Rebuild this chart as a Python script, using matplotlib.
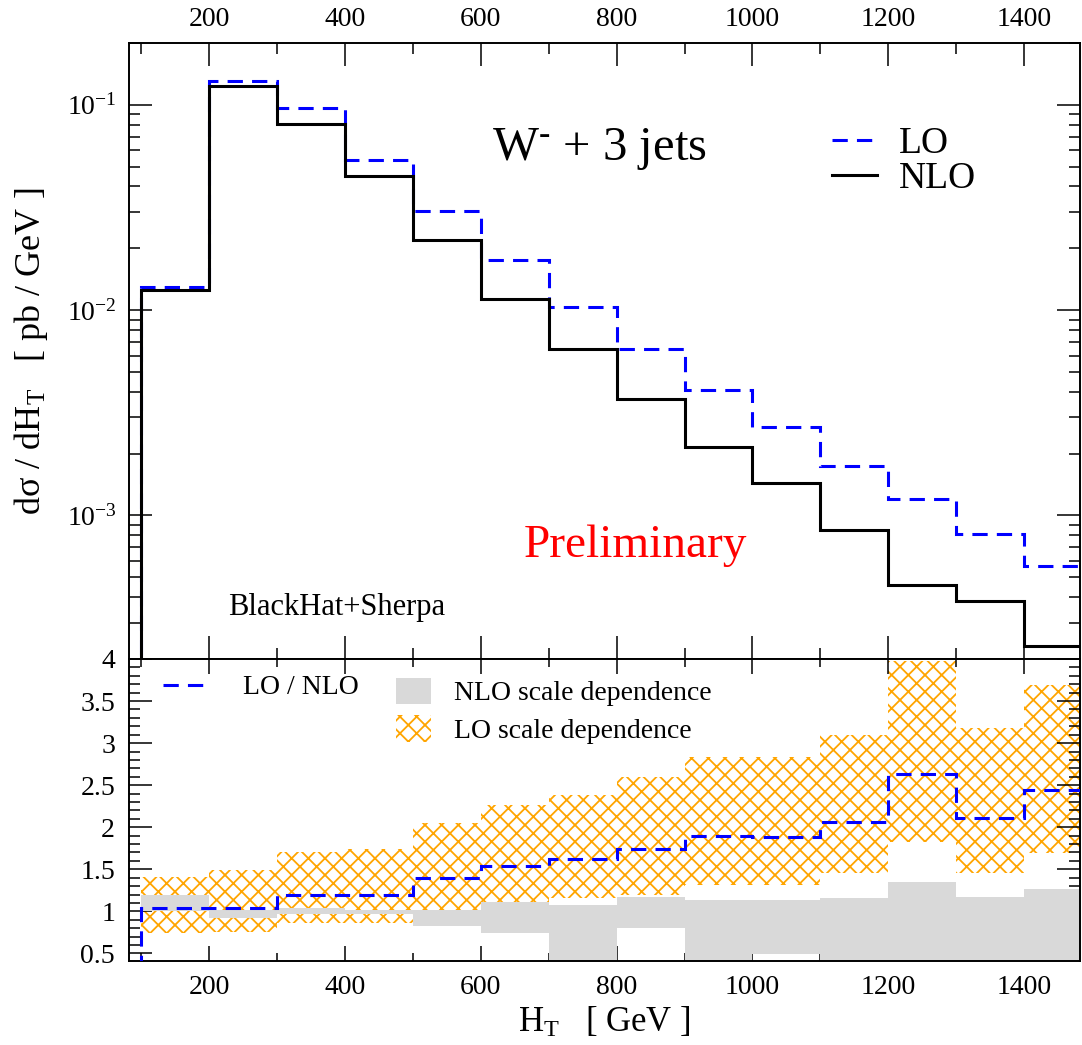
import matplotlib
matplotlib.use("Agg")
import matplotlib.pyplot as plt
from matplotlib.lines import Line2D
from matplotlib.patches import Patch
from matplotlib.ticker import MultipleLocator, LogLocator, NullFormatter, FormatStrFormatter

plt.rcParams['font.family'] = ['Liberation Serif', 'DejaVu Serif']
plt.rcParams['mathtext.fontset'] = 'custom'
plt.rcParams['mathtext.rm'] = 'Liberation Serif'
plt.rcParams['mathtext.it'] = 'Liberation Serif:italic'
plt.rcParams['hatch.linewidth'] = 1.3
plt.rcParams['hatch.color'] = 'orange'

# H_T bins [GeV]
bin_edges = [100, 200, 300, 400, 500, 600, 700, 800, 900, 1000, 1100, 1200, 1300, 1400, 1500]

# dsigma/dH_T [pb/GeV]
nlo = [0.0125, 0.123, 0.0803, 0.0451, 0.0220, 0.0113, 0.00643, 0.00369, 0.00215,
       0.00144, 0.000852, 0.000460, 0.000385, 0.000231]
lo = [0.0130, 0.130, 0.0960, 0.0537, 0.0303, 0.0175, 0.0104, 0.00643, 0.00410,
      0.00270, 0.00175, 0.00120, 0.000814, 0.000568]

# lower panel: LO/NLO and scale bands (normalised to NLO)
ratio = [1.036, 1.04, 1.19, 1.20, 1.40, 1.54, 1.62, 1.74, 1.90, 1.88, 2.06, 2.63, 2.11, 2.44]
lo_band_low = [0.74, 0.76, 0.86, 0.86, 0.90, 1.00, 1.16, 1.20, 1.31, 1.31, 1.45, 1.83, 1.46, 1.69]
lo_band_high = [1.41, 1.49, 1.71, 1.74, 2.05, 2.27, 2.38, 2.60, 2.83, 2.83, 3.10, 3.98, 3.18, 3.69]
nlo_band_low = [1.00, 0.92, 0.97, 0.97, 0.83, 0.74, 0.30, 0.80, 0.30, 0.49, 0.30, 0.30, 0.30, 0.30]
nlo_band_high = [1.19, 1.015, 1.04, 1.02, 1.02, 1.11, 1.08, 1.17, 1.135, 1.135, 1.155, 1.345, 1.174, 1.27]

dash = (0, (5, 3))
tick_fs = 20

fig = plt.figure(figsize=(10.82, 10.45), dpi=100)
ax1 = fig.add_axes([0.1192, 0.3694, 0.8794, 0.5895])
ax2 = fig.add_axes([0.1192, 0.0804, 0.8794, 0.2890])

# ---- top panel
ax1.stairs(lo, bin_edges, baseline=1e-6, color='blue', lw=2.2, ls=dash, zorder=3)
ax1.stairs(nlo, bin_edges, baseline=1e-6, color='black', lw=2.2, zorder=4)
ax1.set_yscale('log')
ax1.set_xlim(82, 1483)
ax1.set_ylim(2e-4, 0.2)
ax1.xaxis.set_major_locator(MultipleLocator(200))
ax1.xaxis.set_minor_locator(MultipleLocator(100))
ax1.yaxis.set_major_locator(LogLocator(base=10, numticks=10))
ax1.yaxis.set_minor_locator(LogLocator(base=10, subs=range(2, 10), numticks=20))
ax1.yaxis.set_minor_formatter(NullFormatter())
ax1.tick_params(axis='x', which='both', direction='in', top=True, bottom=True,
                labeltop=True, labelbottom=False, labelsize=tick_fs, pad=8)
ax1.tick_params(axis='y', which='both', direction='in', left=True, right=True,
                labelsize=tick_fs, pad=9)
ax1.tick_params(which='major', length=16.5, width=1.1)
ax1.tick_params(which='minor', length=8, width=1.1)
ax1.set_ylabel('dσ / dH$_\\mathrm{T}$   [ pb / GeV ]', fontsize=26)
ax1.yaxis.set_label_coords(-0.083, 0.5)

top_handles = [Line2D([], [], color='blue', lw=2.2, ls=dash),
               Line2D([], [], color='black', lw=2.2)]
ax1.legend(top_handles, ['LO', 'NLO'], loc='upper left', bbox_to_anchor=(0.739, 0.864),
           frameon=False, fontsize=27, handlelength=1.2, handletextpad=0.59,
           labelspacing=0.0, borderpad=0, borderaxespad=0)
ax1.text(0.382, 0.81, r'W$^{\text{-}}$ + 3 jets', transform=ax1.transAxes, fontsize=35,
         va='baseline', ha='left')
ax1.text(0.415, 0.166, 'Preliminary', transform=ax1.transAxes, fontsize=34,
         color='red', va='baseline', ha='left')
ax1.text(0.104, 0.0714, 'BlackHat+Sherpa', transform=ax1.transAxes, fontsize=22,
         va='baseline', ha='left')

# ---- bottom panel
ext = lambda v: list(v) + [v[-1]]
ax2.fill_between(bin_edges, ext(lo_band_low), ext(lo_band_high), step='post',
                 facecolor='none', edgecolor='orange', hatch='xx', linewidth=0, zorder=1)
ax2.fill_between(bin_edges, ext(nlo_band_low), ext(nlo_band_high), step='post',
                 facecolor='#d9d9d9', edgecolor='none', linewidth=0, zorder=2)
ax2.stairs(ratio, bin_edges, baseline=0, color='blue', lw=2.2, ls=dash, zorder=3)
ax2.set_xlim(82, 1483)
ax2.set_ylim(0.41, 4)
ax2.xaxis.set_major_locator(MultipleLocator(200))
ax2.xaxis.set_minor_locator(MultipleLocator(100))
ax2.yaxis.set_major_locator(MultipleLocator(0.5))
ax2.yaxis.set_minor_locator(MultipleLocator(0.1))
ax2.yaxis.set_major_formatter(FormatStrFormatter('%g'))
ax2.tick_params(axis='x', which='both', direction='in', top=True, bottom=True,
                labelsize=tick_fs, pad=10)
ax2.tick_params(axis='x', which='major', length=10.5, width=1.1)
ax2.tick_params(axis='x', which='minor', length=5.5, width=1.1)
ax2.tick_params(axis='y', which='both', direction='in', left=True, right=True,
                labelsize=tick_fs, pad=10)
ax2.tick_params(axis='y', which='major', length=16.5, width=1.1)
ax2.tick_params(axis='y', which='minor', length=8, width=1.1)
ax2.set_xlabel(r'H$_\mathrm{T}$   [ GeV ]', fontsize=25)

leg1 = ax2.legend([Line2D([], [], color='blue', lw=2.2, ls=dash)], ['LO / NLO'],
                  loc='upper left', bbox_to_anchor=(0.0354, 0.947), frameon=False,
                  fontsize=20, handlelength=1.7, handletextpad=1.19,
                  borderpad=0, borderaxespad=0)
ax2.add_artist(leg1)
band_handles = [Patch(facecolor='#d9d9d9', edgecolor='none'),
                Patch(facecolor='none', edgecolor='orange', hatch='xx', linewidth=0)]
ax2.legend(band_handles, ['NLO scale dependence', 'LO scale dependence'],
           loc='upper left', bbox_to_anchor=(0.281, 0.938), frameon=False,
           fontsize=20, handlelength=1.26, handleheight=1.08, handletextpad=0.8,
           labelspacing=0.32, borderpad=0, borderaxespad=0)

for ax in (ax1, ax2):
    for sp in ax.spines.values():
        sp.set_linewidth(1.4)

fig.savefig('out.png', dpi=100)
